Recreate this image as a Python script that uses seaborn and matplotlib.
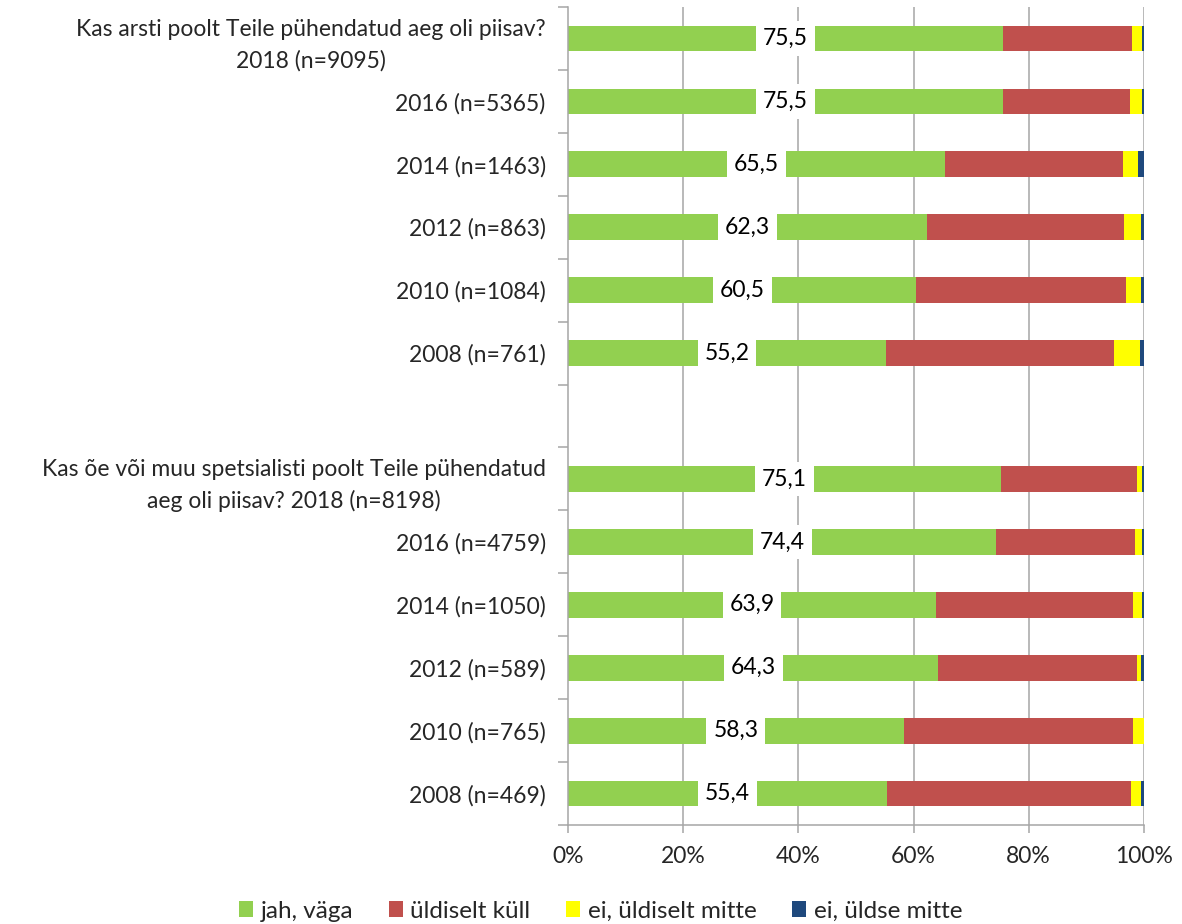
import numpy as np
import pandas as pd
import matplotlib
matplotlib.use("Agg")
import matplotlib.pyplot as plt
import seaborn as sns
from matplotlib.patches import Patch
from matplotlib.ticker import FixedLocator

# Row labels (top to bottom); the blank entry separates the two questions
rows = [
    "Kas arsti poolt Teile pühendatud aeg oli piisav?\n2018 (n=9095)",
    "2016 (n=5365)",
    "2014 (n=1463)",
    "2012 (n=863)",
    "2010 (n=1084)",
    "2008 (n=761)",
    " ",
    "Kas õe või muu spetsialisti poolt Teile pühendatud\naeg oli piisav? 2018 (n=8198)",
    "2016 (n=4759)",
    "2014 (n=1050)",
    "2012 (n=589)",
    "2010 (n=765)",
    "2008 (n=469)",
]

# Shares (%) per answer category; None for the spacer row
jah_vaga = [75.5, 75.5, 65.5, 62.3, 60.5, 55.2, None, 75.1, 74.4, 63.9, 64.3, 58.3, 55.4]
uldiselt_kull = [22.5, 22.1, 30.9, 34.3, 36.3, 39.6, None, 23.7, 24.0, 34.2, 34.5, 39.8, 42.3]
ei_uldiselt_mitte = [1.7, 2.1, 2.6, 2.9, 2.7, 4.5, None, 0.9, 1.3, 1.6, 0.7, 1.9, 1.8]
ei_uldse_mitte = [0.3, 0.3, 1.0, 0.5, 0.5, 0.7, None, 0.3, 0.3, 0.3, 0.5, 0.0, 0.5]

series_names = ["jah, väga", "üldiselt küll", "ei, üldiselt mitte", "ei, üldse mitte"]
colors = ["#92D050", "#C0504D", "#FFFF00", "#1F497D"]

df = pd.DataFrame({
    "row": rows,
    series_names[0]: jah_vaga,
    series_names[1]: uldiselt_kull,
    series_names[2]: ei_uldiselt_mitte,
    series_names[3]: ei_uldse_mitte,
})
data = df.dropna().copy()
vals = data[series_names].to_numpy(dtype=float)
# normalise each row so the stacks end at 100 %
vals = vals / vals.sum(axis=1, keepdims=True) * 100
cum = np.cumsum(vals, axis=1)
for i, name in enumerate(series_names):
    data["cum_" + name] = cum[:, i]

sns.set_theme(style="white")
plt.rcParams["font.family"] = ["Lato", "DejaVu Sans"]
FS = 16.5

fig = plt.figure(figsize=(11.82, 9.24), dpi=100)
ax = fig.add_axes([0.4805, 0.1071, 0.4873, 0.8853])

grid_c = "#A6A6A6"
for x in [20, 40, 60, 80, 100]:
    ax.axvline(x, color=grid_c, lw=1.1, zorder=0)

# stacked bars: draw cumulative totals from the widest to the narrowest
for i in range(len(series_names) - 1, -1, -1):
    sns.barplot(data=data, x="cum_" + series_names[i], y="row", order=rows,
                color=colors[i], saturation=1, width=0.41, orient="h",
                linewidth=0, ax=ax, zorder=2)

# value labels centred on the green segment
for _, r in data.iterrows():
    y = rows.index(r["row"])
    v = r[series_names[0]]
    ax.text(r["cum_" + series_names[0]] / 2, y, f"{v:.1f}".replace(".", ","),
            ha="center", va="center", fontsize=FS, color="black", zorder=5,
            bbox=dict(boxstyle="square,pad=0.3", fc="white", ec="none"))

ax.set_xlim(0, 100)
ax.set_ylim(len(rows) - 0.5, -0.5)
ax.set_xlabel("")
ax.set_ylabel("")
ax.set_xticks([0, 20, 40, 60, 80, 100])
ax.set_xticklabels(["0%", "20%", "40%", "60%", "80%", "100%"], fontsize=FS)

ax.set_yticks(range(len(rows)))
ax.set_yticklabels(rows, fontsize=FS)
for lbl in ax.get_yticklabels():
    lbl.set_multialignment("center")
    lbl.set_linespacing(1.55)
ax.yaxis.set_minor_locator(FixedLocator(np.arange(-0.5, len(rows), 1.0)))
ax.tick_params(axis="y", which="major", length=0, pad=16)
ax.tick_params(axis="y", which="minor", length=7, width=1.1, color=grid_c, left=True)
ax.tick_params(axis="x", which="major", length=6, width=1.1, color=grid_c,
               bottom=True, pad=9)

for side in ["top", "right"]:
    ax.spines[side].set_visible(False)
for side in ["left", "bottom"]:
    ax.spines[side].set_color(grid_c)
    ax.spines[side].set_linewidth(1.1)

handles = [Patch(facecolor=c, edgecolor="none", label=n) for c, n in zip(colors, series_names)]
fig.legend(handles=handles, loc="center", bbox_to_anchor=(0.508, 0.014),
           ncol=4, frameon=False, fontsize=17.5, handlelength=0.6,
           handleheight=0.6, handletextpad=0.3, columnspacing=1.45)

fig.savefig("out.png", dpi=100)
